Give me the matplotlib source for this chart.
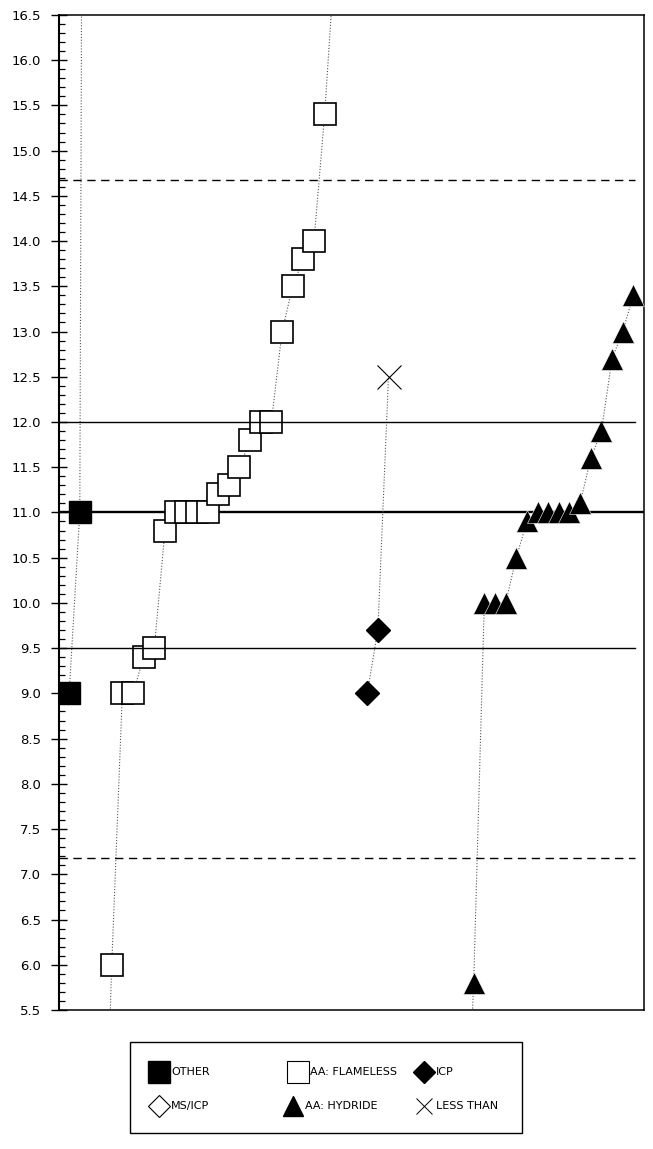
import matplotlib.pyplot as plt
from matplotlib.lines import Line2D
from matplotlib.patches import Rectangle
from matplotlib.ticker import MultipleLocator, FormatStrFormatter

# lab rank (x) and reported result (y) for each method.
# the first/last values of some series sit outside the y range; they only steer the dotted trace
other_x = [1, 2, 3]
other_y = [9.0, 11.0, 45.0]

flameless_x = list(range(4, 27))
flameless_y = [2.3, 6.0, 9.0, 9.0, 9.4, 9.5, 10.8, 11.0, 11.0, 11.0, 11.0, 11.2,
               11.3, 11.5, 11.8, 12.0, 12.0, 13.0, 13.5, 13.8, 14.0, 15.4, 17.2]

icp_x = [29, 30]
icp_y = [9.0, 9.7]

less_than_x = [31]
less_than_y = [12.5]

hydride_x = list(range(38, 55))
hydride_y = [3.0, 5.8, 10.0, 10.0, 10.0, 10.5, 10.9, 11.0, 11.0, 11.0, 11.0, 11.1,
             11.6, 11.9, 12.7, 13.0, 13.4]

# reference levels across the plot
dashed_levels = [14.67, 7.18]
solid_levels = [12.0, 9.5]
center_level = 11.0

W, H = 653, 1149
fig = plt.figure(figsize=(W / 100, H / 100), dpi=100)
ax = fig.add_axes([0.0896, 0.121, 0.8966, 0.866])

trace = dict(color='#555555', linestyle=(0, (1, 1.6)), linewidth=0.8, zorder=2)
ax.plot(other_x, other_y, **trace)
ax.plot(flameless_x, flameless_y, **trace)
ax.plot(icp_x + less_than_x, icp_y + less_than_y, **trace)
ax.plot(hydride_x, hydride_y, **trace)

ax.axhline(center_level, color='black', linewidth=1.7, zorder=1.5)
for lev in solid_levels:
    ax.axhline(lev, xmax=0.985, color='black', linewidth=1.0, zorder=3.5)
for lev in dashed_levels:
    ax.axhline(lev, xmax=0.985, color='black', linewidth=1.0,
               linestyle=(0, (6, 4)), zorder=3.5)

ax.plot(other_x, other_y, linestyle='none', marker='s', markersize=16.5,
        markerfacecolor='black', markeredgecolor='black', zorder=3)
ax.plot(flameless_x, flameless_y, linestyle='none', marker='s', markersize=16.5,
        markerfacecolor='white', markeredgecolor='black', markeredgewidth=1.2, zorder=3)
ax.plot(icp_x, icp_y, linestyle='none', marker='D', markersize=11.8,
        markerfacecolor='black', markeredgecolor='black', zorder=3)
ax.plot(less_than_x, less_than_y, linestyle='none', marker='x', markersize=17,
        markeredgecolor='black', markeredgewidth=0.8, zorder=3)
for x, y in zip(hydride_x, hydride_y):
    ax.plot(x, y, linestyle='none', marker='^', markersize=16,
            markerfacecolor='black', markeredgecolor='white', markeredgewidth=0.4, zorder=3)

ax.set_xlim(0, 55)
ax.set_ylim(5.5, 16.5)
ax.set_xticks([])
ax.yaxis.set_major_locator(MultipleLocator(0.5))
ax.yaxis.set_minor_locator(MultipleLocator(0.1))
ax.yaxis.set_major_formatter(FormatStrFormatter('%.1f'))
ax.tick_params(axis='y', which='major', direction='inout', length=11.5, width=1.0,
               labelsize=9.5, pad=7)
ax.tick_params(axis='y', which='minor', direction='in', length=4.3, width=0.9)
for side in ['top', 'right', 'bottom']:
    ax.spines[side].set_linewidth(1.1)
ax.spines['left'].set_linewidth(1.5)

# legend box, laid out by hand in pixel positions (x of marker, y of row)
fig.add_artist(Rectangle((130 / W, 1 - 1133 / H), 392 / W, 91 / H, transform=fig.transFigure,
                         fill=False, edgecolor='black', linewidth=1.0))
entries = [
    ('OTHER', 159, 1072, dict(marker='s', markersize=16, markerfacecolor='black')),
    ('AA: FLAMELESS', 298, 1072, dict(marker='s', markersize=16, markerfacecolor='white',
                                       markeredgewidth=0.8)),
    ('ICP', 424, 1072, dict(marker='D', markersize=11, markerfacecolor='black')),
    ('MS/ICP', 159, 1106, dict(marker='D', markersize=11, markerfacecolor='white',
                               markeredgewidth=0.8)),
    ('AA: HYDRIDE', 293, 1106, dict(marker='^', markersize=14, markerfacecolor='black')),
    ('LESS THAN', 424, 1106, dict(marker='x', markersize=12, markeredgewidth=0.7)),
]
for label, mx, my, style in entries:
    fig.add_artist(Line2D([mx / W], [1 - my / H], transform=fig.transFigure,
                          linestyle='none', markeredgecolor='black', **style))
    fig.text((mx + 12) / W, 1 - my / H, label, fontsize=8, ha='left', va='center')

fig.savefig('out.png', dpi=100)
